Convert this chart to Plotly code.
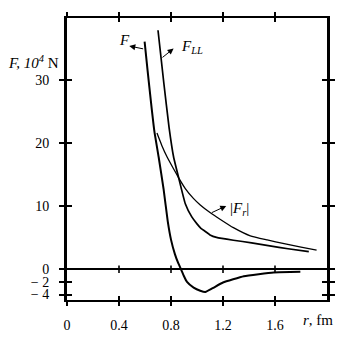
import plotly.graph_objects as go

# F (total force)
F_r = [0.597, 0.62, 0.646, 0.672, 0.705, 0.743, 0.775, 0.80, 0.83, 0.855, 0.877, 0.90, 0.923, 0.974, 1.025, 1.064, 1.12, 1.2, 1.36, 1.59, 1.795]
F_v = [36.1, 31.5, 26.5, 21.9, 17.8, 12.7, 7.6, 4.7, 2.4, 1.0, 0.0, -1.1, -2.0, -2.9, -3.4, -3.6, -3.0, -2.1, -1.1, -0.5, -0.4]

# F_LL
FLL_r = [0.70, 0.745, 0.785, 0.82, 0.859, 0.91, 0.96, 1.0, 1.03, 1.064, 1.10, 1.15, 1.28, 1.42, 1.56, 1.70, 1.86]
FLL_v = [37.9, 29.5, 22.5, 17.8, 14.5, 10.4, 8.3, 7.2, 6.5, 6.0, 5.45, 5.05, 4.6, 4.2, 3.7, 3.25, 2.8]

# |F_r|
Fr_r = [0.692, 0.73, 0.77, 0.815, 0.859, 0.91, 0.974, 1.025, 1.10, 1.18, 1.28, 1.41, 1.54, 1.67, 1.80, 1.92]
Fr_v = [21.6, 19.6, 17.8, 16.1, 14.5, 12.8, 11.2, 10.2, 9.0, 7.9, 6.6, 5.3, 4.65, 4.06, 3.5, 3.04]

x_ticks = [0, 0.4, 0.8, 1.2, 1.6]
x_ticktext = ["0", "0.4", "0.8", "1.2", "1.6"]
y_ticks = [-4, -2, 0, 10, 20, 30]
y_ticktext = ["\u2212 4", "\u2212 2", "0", "10", "20", "30"]
zero_ticks = [0.4, 0.8, 1.2, 1.6]

FONT = "Liberation Serif"
X_RANGE = [0, 2.0]
Y_RANGE = [-4.87, 39.84]
TICK_HALF = 0.6  # half length of zero-line tick marks, in y units

fig = go.Figure()
fig.add_trace(go.Scatter(x=F_r, y=F_v, mode="lines", line=dict(color="black", width=2, shape="spline", smoothing=0.4)))
fig.add_trace(go.Scatter(x=FLL_r, y=FLL_v, mode="lines", line=dict(color="black", width=1.7, shape="spline", smoothing=0.4)))
fig.add_trace(go.Scatter(x=Fr_r, y=Fr_v, mode="lines", line=dict(color="black", width=1.3, shape="spline", smoothing=0.4)))

# tick marks on the zero line, built from the tick array (drawn as layout shapes above everything)
for v in zero_ticks:
    fig.add_shape(type="line", xref="x", yref="y", x0=v, x1=v, y0=-TICK_HALF, y1=TICK_HALF,
                  line=dict(color="black", width=1.6), layer="above")

tf = dict(family=FONT, size=14, color="black")
common_x = dict(range=X_RANGE, tickvals=x_ticks, showgrid=False, zeroline=False, tickcolor="black", tickwidth=1.5, ticklen=4)
common_y = dict(range=Y_RANGE, tickvals=y_ticks, showgrid=False, tickcolor="black", tickwidth=1.5, ticklen=5)

# invisible helper traces so the overlay axes (for inward ticks) are drawn
fig.add_trace(go.Scatter(x=[0], y=[0], xaxis="x2", yaxis="y", mode="markers", marker=dict(size=1, opacity=0), hoverinfo="skip"))
fig.add_trace(go.Scatter(x=[0], y=[0], xaxis="x", yaxis="y2", mode="markers", marker=dict(size=1, opacity=0), hoverinfo="skip"))

fig.update_layout(
    width=350, height=345,
    margin=dict(l=67, r=23, t=18, b=33),
    paper_bgcolor="white", plot_bgcolor="white",
    showlegend=False,
    font=dict(family=FONT, size=14, color="black"),
    xaxis=dict(**common_x, ticks="outside", mirror="allticks", showline=True, linecolor="black", linewidth=2,
               ticktext=x_ticktext, ticklabelstandoff=7, tickfont=tf),
    xaxis2=dict(**common_x, overlaying="x", anchor="y", ticks="inside", mirror="allticks", showline=False,
                showticklabels=False),
    yaxis=dict(**common_y, ticks="outside", mirror="allticks", showline=True, linecolor="black", linewidth=3,
               ticktext=y_ticktext, ticklabelstandoff=7, tickfont=tf,
               zeroline=True, zerolinecolor="black", zerolinewidth=1.5),
    yaxis2=dict(**common_y, overlaying="y", anchor="x", ticks="inside", mirror="allticks", showline=False,
                showticklabels=False, zeroline=False),
)

ann = []
# axis titles
ann.append(dict(text="<i>F, 10<sup>4</sup></i> N", xref="paper", x=-0.235, xanchor="left",
                yref="paper", y=0.844, yanchor="middle", showarrow=False, font=dict(family=FONT, size=15)))
ann.append(dict(text="<i>r</i>, fm", xref="paper", x=0.965, xanchor="center",
                yref="paper", y=-0.072, yanchor="middle", showarrow=False, font=dict(family=FONT, size=15)))
# curve labels
ann.append(dict(text="<i>F</i>", xref="x", x=0.445, yref="y", y=36.3, showarrow=False, font=dict(family=FONT, size=15)))
ann.append(dict(text="<i>F</i><sub><i>LL</i></sub>", xref="x", x=0.86, xanchor="left", yref="y", y=35.2,
                showarrow=False, font=dict(family=FONT, size=15)))
ann.append(dict(text="|<i>F</i><sub><i>r</i></sub>|", xref="x", x=1.235, xanchor="left", yref="y", y=9.6,
                showarrow=False, font=dict(family=FONT, size=15)))
# arrows (head near label, tail on curve)
arrows = [((0.479, 35.4), (0.597, 34.9)),
          ((0.82, 35.0), (0.723, 33.4)),
          ((1.225, 10.05), (1.102, 8.87))]
for (hx, hy), (ax_, ay_) in arrows:
    ann.append(dict(text="", x=hx, y=hy, xref="x", yref="y", ax=ax_, ay=ay_, axref="x", ayref="y",
                    showarrow=True, arrowhead=2, arrowsize=1.2, arrowwidth=1, arrowcolor="black", standoff=0))
fig.update_layout(annotations=ann)

fig.write_html("out.html")
